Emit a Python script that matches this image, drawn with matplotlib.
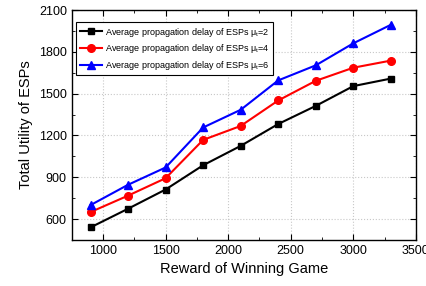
import matplotlib.pyplot as plt
from matplotlib.ticker import MultipleLocator

plt.rcParams['font.family'] = ['Liberation Sans', 'DejaVu Sans']
plt.rcParams['mathtext.fontset'] = 'custom'
plt.rcParams['mathtext.rm'] = 'Liberation Sans'
plt.rcParams['mathtext.it'] = 'Liberation Sans'

# data
reward = [900, 1200, 1500, 1800, 2100, 2400, 2700, 3000, 3300]
util_mu2 = [540, 674, 812, 986, 1125, 1282, 1412, 1554, 1608]
util_mu4 = [650, 768, 893, 1168, 1268, 1451, 1592, 1686, 1737]
util_mu6 = [700, 846, 970, 1257, 1384, 1595, 1703, 1861, 1994]
labels = ['Average propagation delay of ESPs μ$_\\mathrm{t}$=2',
          'Average propagation delay of ESPs μ$_\\mathrm{t}$=4',
          'Average propagation delay of ESPs μ$_\\mathrm{t}$=6']

fig = plt.figure(figsize=(4.27, 2.86), dpi=100)
ax = fig.add_axes([0.168, 0.161, 0.806, 0.804])

ax.plot(reward, util_mu2, color='black', marker='s', markersize=5, lw=1.5, label=labels[0])
ax.plot(reward, util_mu4, color='red', marker='o', markersize=5.5, lw=1.5, label=labels[1])
ax.plot(reward, util_mu6, color='blue', marker='^', markersize=6, lw=1.5, label=labels[2])

ax.set_xlim(750, 3500)
ax.set_ylim(450, 2100)
ax.xaxis.set_major_locator(MultipleLocator(500))
ax.xaxis.set_minor_locator(MultipleLocator(250))
ax.yaxis.set_major_locator(MultipleLocator(300))
ax.yaxis.set_minor_locator(MultipleLocator(150))
ax.tick_params(which='both', direction='in', top=True, right=True, labelsize=9)
ax.tick_params(which='major', length=4)
ax.tick_params(which='minor', length=2)
ax.grid(True, which='major', linestyle=':', color='#c8c8c8', lw=0.8)
for s in ax.spines.values():
    s.set_linewidth(1.0)

ax.set_xlabel('Reward of Winning Game', fontsize=10.5)
ax.set_ylabel('Total Utility of ESPs', fontsize=10.5)

leg = ax.legend(loc='upper left', fontsize=6.5, fancybox=False, edgecolor='black',
                framealpha=1, handlelength=2.5, handletextpad=0.3, borderpad=0.4,
                labelspacing=0.4, borderaxespad=0, bbox_to_anchor=(0.0125, 0.948))
leg.get_frame().set_linewidth(0.8)

fig.savefig('out.png', dpi=100)
